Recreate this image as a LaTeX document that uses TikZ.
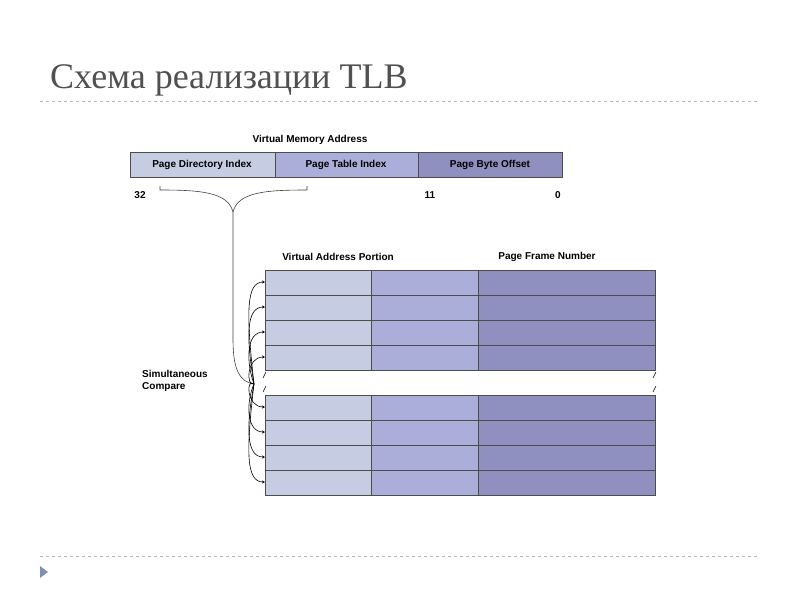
\documentclass[tikz,border=0pt]{standalone}
\usepackage{fontspec}
\setmainfont{Liberation Sans}
\newfontfamily\titlefont{Liberation Serif}
\usetikzlibrary{arrows.meta}
\definecolor{cA}{HTML}{C6CDE3}
\definecolor{cB}{HTML}{ABAED8}
\definecolor{cC}{HTML}{8F8FC0}
\definecolor{titlegray}{HTML}{505050}
\definecolor{rule}{HTML}{B8B8B8}
\definecolor{bul}{HTML}{8090B0}
\tikzset{
  lbl/.style={font=\fontsize{10}{12}\selectfont\bfseries, inner sep=0pt},
  cell/.style={draw=black!70, line width=0.8pt},
  cmp/.style={-{Stealth[length=3pt,width=3pt]}, line width=0.6pt}
}
\begin{document}
\begin{tikzpicture}[x=1pt,y=-1pt]
\useasboundingbox (0,0) rectangle (800,600);
\node[anchor=base west, inner sep=0pt, text=titlegray, font=\titlefont\fontsize{36}{40}\selectfont] (title) at (50,88) {Схема реализации TLB};
\draw[rule, dashed, line width=0.8pt] (40,101) -- (760,101);
\draw[rule, dashed, line width=0.8pt] (40,556) -- (760,556);
\fill[bul] (40,566) -- (48,572) -- (40,578) -- cycle;
% top address bar
\node[lbl] (vma) at (310,140) {Virtual Memory Address};
\filldraw[cell, fill=cA] (130,152) rectangle (275,177);
\filldraw[cell, fill=cB] (275,152) rectangle (418,177);
\filldraw[cell, fill=cC] (418,152) rectangle (562,177);
\node[lbl] (pdi) at (202,165) {Page Directory Index};
\node[lbl] (pti) at (346,165) {Page Table Index};
\node[lbl] (pbo) at (490,165) {Page Byte Offset};
\node[lbl] (n32) at (140,195) {32};
\node[lbl] (n11) at (430,195) {11};
\node[lbl] (n0) at (558,195) {0};
% brace
\coordinate (bl) at (160,186);
\coordinate (br) at (307,186);
\coordinate (bm) at (233,212);
\coordinate (hub) at (254,384);
\draw[line width=0.6pt, black!75] (bl) -- (160,190) .. controls (200,190) and (228,192) .. (bm);
\draw[line width=0.6pt, black!75] (br) -- (307,190) .. controls (266,190) and (238,192) .. (bm);
\draw[line width=0.6pt, black!75] (bm) -- (233,340) .. controls (233,370) and (240,382) .. (hub);
% table
\node[lbl] (vap) at (338,257) {Virtual Address Portion};
\node[lbl] (pfn) at (547,257) {Page Frame Number};
\foreach \y in {270,295,320,345,395,420,445,470}{
  \filldraw[cell, fill=cA] (265,\y) rectangle (371,\y+25);
  \filldraw[cell, fill=cB] (371,\y) rectangle (478,\y+25);
  \filldraw[cell, fill=cC] (478,\y) rectangle (655,\y+25);
}
\fill[white] (262,371) rectangle (658,394);
\draw[line width=0.5pt] (263,378) -- (266,372) (263,392) -- (266,386);
\draw[line width=0.5pt] (653,378) -- (656,372) (653,392) -- (656,386);
\node[lbl, align=left, anchor=west] (sc) at (142,381) {Simultaneous\\Compare};
% compare arrows
\foreach \y in {282,307,332,357}{
  \draw[cmp] (hub) .. controls (246,\y+30) and (246,\y) .. (265,\y);
}
\foreach \y in {407,432,457,482}{
  \draw[cmp] (hub) .. controls (246,\y-30) and (246,\y) .. (265,\y);
}
\end{tikzpicture}
\end{document}
